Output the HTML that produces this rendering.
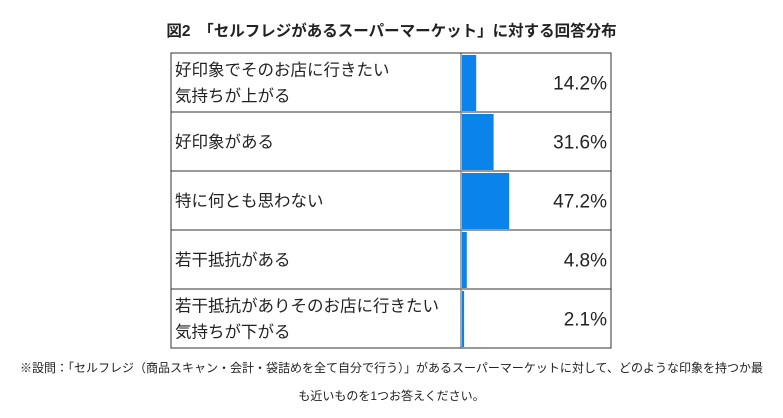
<!DOCTYPE html>
<html><head><meta charset="utf-8"><style>
body{margin:0;width:783px;height:418px;background:#fff;font-family:"Liberation Sans","Noto Sans CJK JP",sans-serif;color:#222;position:relative;overflow:hidden}
.t{position:absolute;left:0;width:783px;text-align:center;white-space:nowrap}
</style></head><body>
<div class="t" style="top:19px;font-size:15.5px;font-weight:bold">図2　「セルフレジがあるスーパーマーケット」に対する回答分布</div>
<svg id="c" width="783" height="418" style="position:absolute;left:0;top:0"></svg>
<div class="t" style="top:359px;font-size:12px">※設問：「セルフレジ（商品スキャン・会計・袋詰めを全て自分で行う）」があるスーパーマーケットに対して、どのような印象を持つか最</div>
<div class="t" style="top:387px;font-size:12px">も近いものを1つお答えください。</div>
<script>
const categories=[["好印象でそのお店に行きたい","気持ちが上がる"],["好印象がある"],["特に何とも思わない"],["若干抵抗がある"],["若干抵抗がありそのお店に行きたい","気持ちが下がる"]];
const values=[14.2,31.6,47.2,4.8,2.1];
const labels=["14.2%","31.6%","47.2%","4.8%","2.1%"];
const svg=document.getElementById('c');const NS='http://www.w3.org/2000/svg';
const L=171,R=611,T=53,RH=59,DX=461;
const x=v=>DX+1+v*1.0;
function mk(t,a){const e=document.createElementNS(NS,t);for(const k in a)e.setAttribute(k,a[k]);svg.appendChild(e);return e;}
values.forEach((v,i)=>{
 const y0=T+i*RH;
 const b=mk('rect',{x:DX+1,y:y0+2,width:x(v)-DX-1,height:RH-3,fill:'#0a84ea'});
 
 
 const lines=categories[i];
 lines.forEach((s,j)=>{
  const tx=mk('text',{x:175,y:y0+RH/2+6+(j-(lines.length-1)/2)*26,'font-size':16.5,fill:'#222'});
  tx.textContent=s;
  
  
 });
 const vt=mk('text',{x:607,y:y0+RH/2+7,'font-size':19,'text-anchor':'end',fill:'#222'});
 vt.textContent=labels[i];
 
 
 if(i>0){const l=mk('line',{x1:L,x2:R,y1:y0,y2:y0,stroke:'#333','stroke-width':1});
 
 }
});
const ax=mk('line',{x1:DX,x2:DX,y1:T,y2:T+5*RH,stroke:'#888','stroke-width':1.5});


const fr=mk('rect',{x:L,y:T,width:R-L,height:5*RH,fill:'none',stroke:'#333','stroke-width':1});


</script>
</body></html>
